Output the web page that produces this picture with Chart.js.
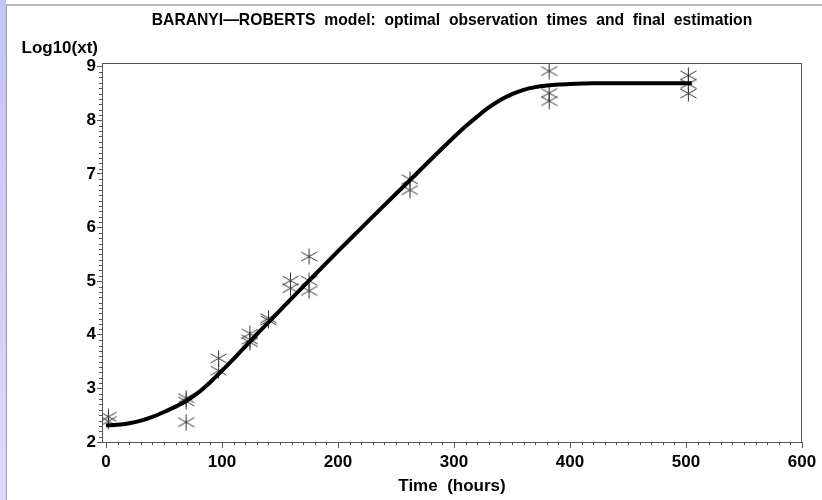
<!DOCTYPE html>
<html>
<head>
<meta charset="utf-8">
<script src="https://cdn.jsdelivr.net/npm/chart.js@4.4.1/dist/chart.umd.min.js"></script>
<style>
  body { margin: 0; background: #fff; }
  #wrap { position: relative; width: 822px; height: 500px; overflow: hidden; }
  #strip { position: absolute; left: 0; top: 0; width: 6px; height: 500px; background: linear-gradient(#c4c4f2, #dadaf8); }
  #edge { position: absolute; left: 6px; top: 4px; right: 0; bottom: 0; border-left: 1px solid #9a9ab0; border-top: 2px solid #b8b8c0; }
  canvas { position: absolute; left: 0; top: 0; }
</style>
</head>
<body>
<div id="wrap">
  <div id="strip"></div>
  <div id="edge"></div>
  <canvas id="chart" width="822" height="500"></canvas>
</div>
<script>
// observed data (hours, log10 counts)
const obsTime = [2, 2, 69, 69, 69, 97, 97, 124, 124, 124, 140, 140, 159, 159, 175, 175, 175, 262, 262, 382, 382, 382, 502, 502, 502];
const obsLog = [2.47, 2.39, 2.82, 2.76, 2.37, 3.56, 3.33, 4.02, 3.91, 3.86, 4.31, 4.27, 5.01, 4.87, 5.46, 5.01, 4.82, 6.90, 6.70, 8.92, 8.51, 8.36, 8.84, 8.68, 8.50];

// fitted Baranyi-Roberts curve
const fitTime = [0, 10, 20, 30, 40, 50, 60, 70, 80, 90, 100, 110, 120, 130, 140, 160, 180, 200, 220, 240, 260, 280, 300, 310, 320, 330, 340, 350, 360, 370, 380, 390, 400, 420, 460, 505];
const fitLog = [2.31, 2.32, 2.35, 2.40, 2.47, 2.56, 2.66, 2.78, 2.93, 3.12, 3.33, 3.55, 3.78, 4.01, 4.23, 4.68, 5.12, 5.56, 5.99, 6.42, 6.84, 7.27, 7.69, 7.89, 8.07, 8.24, 8.38, 8.49, 8.57, 8.62, 8.65, 8.67, 8.68, 8.69, 8.69, 8.69];

const xTicks = [0, 100, 200, 300, 400, 500, 600];
const yTicks = [2, 3, 4, 5, 6, 7, 8, 9];

const titleText = 'BARANYI\u2014ROBERTS  model:  optimal  observation  times  and  final  estimation';
const yLabel = 'Log10(xt)';
const xLabel = 'Time  (hours)';

const fitPoints = fitTime.map((t, i) => ({ x: t, y: fitLog[i] }));
const obsPoints = obsTime.map((t, i) => ({ x: t, y: obsLog[i] }));

// asterisk marker
function makeStar() {
  const c = document.createElement('canvas');
  c.width = 17; c.height = 17;
  const g = c.getContext('2d');
  g.strokeStyle = '#333';
  g.lineWidth = 1;
  g.beginPath();
  g.moveTo(8.5, 0.5); g.lineTo(8.5, 16.5);
  g.moveTo(0.5, 4); g.lineTo(16.5, 13);
  g.moveTo(0.5, 13); g.lineTo(16.5, 4);
  g.stroke();
  return c;
}
const star = makeStar();

const framePlugin = {
  id: 'frame',
  afterDraw(chart) {
    const { ctx, chartArea: a, scales } = chart;
    ctx.save();
    ctx.strokeStyle = '#555';
    ctx.lineWidth = 1;
    ctx.strokeRect(a.left + 0.5, a.top + 0.5, a.right - a.left - 1, a.bottom - a.top);

    // minor ticks
    ctx.beginPath();
    for (let v = 10; v < 600; v += 10) {
      if (v % 100 === 0) continue;
      const px = Math.round(scales.x.getPixelForValue(v)) + 0.5;
      ctx.moveTo(px, a.bottom); ctx.lineTo(px, a.bottom + 3);
    }
    for (let k = 21; k < 90; k++) {
      if (k % 10 === 0) continue;
      const py = Math.round(scales.y.getPixelForValue(k / 10)) + 0.5;
      ctx.moveTo(a.left, py); ctx.lineTo(a.left - 3, py);
    }
    ctx.stroke();

    ctx.fillStyle = '#000';
    ctx.textBaseline = 'middle';
    ctx.font = 'bold 15.7px "Liberation Sans", Arial, sans-serif';
    ctx.textAlign = 'center';
    ctx.fillText(titleText, (a.left + a.right) / 2, 21);
    ctx.textAlign = 'right';
    ctx.font = 'bold 17px "Liberation Sans", Arial, sans-serif';
    ctx.fillText(yLabel, a.left - 4, 48);
    ctx.restore();
  }
};

const tickFont = { family: '"Liberation Sans", Arial, sans-serif', size: 17, weight: 'bold' };

new Chart(document.getElementById('chart'), {
  type: 'scatter',
  data: {
    datasets: [
      {
        type: 'line',
        data: fitPoints,
        borderColor: '#000',
        borderWidth: 4,
        pointRadius: 0,
        cubicInterpolationMode: 'monotone',
        fill: false
      },
      {
        data: obsPoints,
        pointStyle: star,
        pointRadius: 8
      }
    ]
  },
  options: {
    responsive: false,
    animation: false,
    devicePixelRatio: 1,
    layout: { padding: { left: 0, right: 20, top: 63, bottom: 0 } },
    plugins: { legend: { display: false }, tooltip: { enabled: false } },
    scales: {
      x: {
        type: 'linear',
        min: -3.5,
        max: 600,
        afterBuildTicks: s => { s.ticks = xTicks.map(v => ({ value: v })); },
        afterFit: s => { s.height = 58; },
        ticks: { font: tickFont, color: '#000', padding: 4, maxRotation: 0 },
        grid: { drawOnChartArea: false, tickLength: 6, color: '#555' },
        border: { color: '#555' },
        title: { display: true, text: xLabel, color: '#000', font: { family: '"Liberation Sans", Arial, sans-serif', size: 17, weight: 'bold' }, padding: { top: 0, bottom: 3 } }
      },
      y: {
        min: 2,
        max: 9.07,
        afterBuildTicks: s => { s.ticks = yTicks.map(v => ({ value: v })); },
        afterFit: s => { s.width = 102; },
        ticks: { font: tickFont, color: '#000', padding: 1 },
        grid: { drawOnChartArea: false, tickLength: 5, color: '#555' },
        border: { color: '#555' }
      }
    }
  },
  plugins: [framePlugin]
});
</script>
</body>
</html>
